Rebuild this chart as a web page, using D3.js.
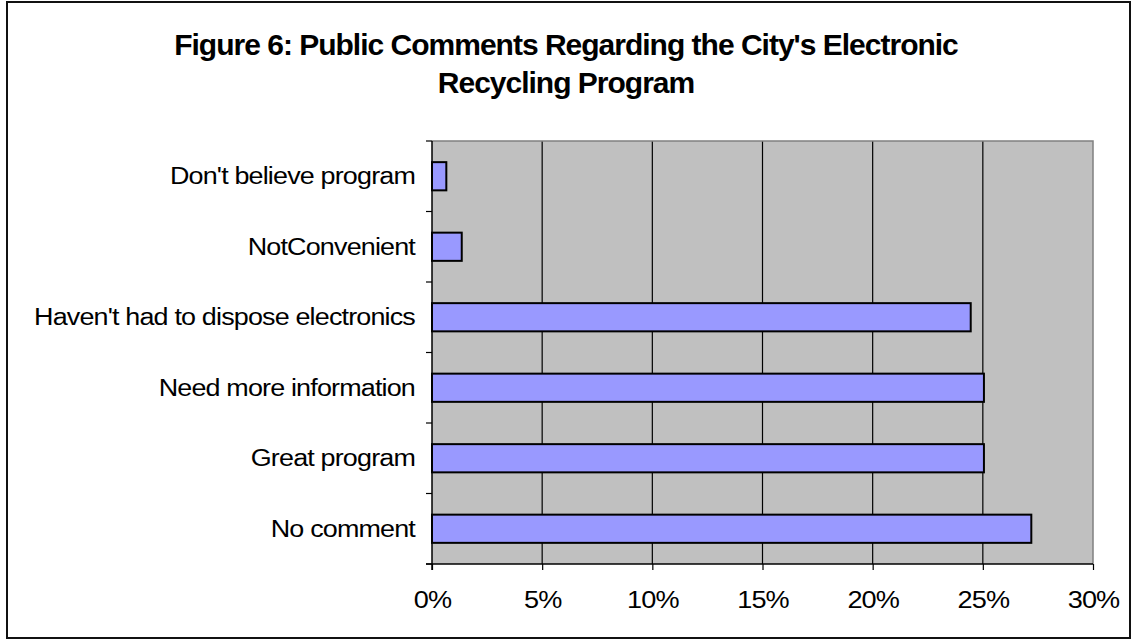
<!DOCTYPE html>
<html>
<head>
<meta charset="utf-8">
<script src="https://cdn.jsdelivr.net/npm/d3@7"></script>
<style>
  html, body { margin: 0; padding: 0; background: #fff; }
  svg { display: block; font-family: "Liberation Sans", Arial, sans-serif; }
</style>
</head>
<body>
<svg id="chart" width="1132" height="640"></svg>
<script>
// Survey responses, listed top to bottom as drawn
const categories = [
  "Don't believe program",
  "NotConvenient",
  "Haven't had to dispose electronics",
  "Need more information",
  "Great program",
  "No comment"
];
const shares = [0.65, 1.35, 24.45, 25.05, 25.05, 27.2]; // percent of responses
const xTicks = [0, 5, 10, 15, 20, 25, 30];
const titleLines = [
  "Figure 6: Public Comments Regarding the City's Electronic",
  "Recycling Program"
];

const svg = d3.select("#chart");
const plot = { left: 432, right: 1093, top: 141, bottom: 564 };
const textStretch = 1.17; // labels use wide glyphs with tight spacing

// outer frame
svg.append("rect")
  .attr("x", 7).attr("y", 2).attr("width", 1123).attr("height", 636)
  .attr("fill", "#fff").attr("stroke", "#111").attr("stroke-width", 2);

// title
svg.append("text")
  .attr("text-anchor", "middle")
  .attr("font-weight", "bold")
  .attr("font-size", 30)
  .attr("letter-spacing", -1)
  .selectAll("tspan").data(titleLines).join("tspan")
  .attr("x", 566)
  .attr("y", (d, i) => 55 + i * 38)
  .text(d => d);

const x = d3.scaleLinear().domain([0, 30]).range([plot.left, plot.right]);
const y = d3.scaleBand().domain(categories).range([plot.top, plot.bottom])
  .paddingInner(0.6).paddingOuter(0.3);
const step = (plot.bottom - plot.top) / categories.length;

// plot background
svg.append("rect")
  .attr("x", plot.left).attr("y", plot.top)
  .attr("width", plot.right - plot.left).attr("height", plot.bottom - plot.top)
  .attr("fill", "#c0c0c0");

// vertical gridlines
svg.append("g").selectAll("line").data(xTicks.slice(1, -1)).join("line")
  .attr("x1", d => x(d)).attr("x2", d => x(d))
  .attr("y1", plot.top).attr("y2", plot.bottom)
  .attr("stroke", "#000").attr("stroke-width", 1.2);

// plot border on top and right
svg.append("path")
  .attr("d", `M${plot.left},${plot.top}H${plot.right}V${plot.bottom}`)
  .attr("fill", "none").attr("stroke", "#808080").attr("stroke-width", 1.5);

// bars
svg.append("g").selectAll("rect").data(shares).join("rect")
  .attr("x", x(0))
  .attr("y", (d, i) => y(categories[i]))
  .attr("width", d => x(d) - x(0))
  .attr("height", y.bandwidth())
  .attr("fill", "#9999ff")
  .attr("stroke", "#000").attr("stroke-width", 2);

// x axis
const xAxis = svg.append("g")
  .attr("transform", `translate(0,${plot.bottom})`)
  .call(d3.axisBottom(x).tickValues(xTicks).tickFormat(d => d + "%").tickSize(6).tickPadding(0));
xAxis.select(".domain").attr("stroke", "#000").attr("stroke-width", 1.5)
  .attr("d", `M${plot.left - 6},0H${plot.right}`);
xAxis.selectAll(".tick line").attr("stroke", "#000").attr("stroke-width", 1.2);
xAxis.selectAll(".tick text")
  .attr("font-family", "Liberation Sans, Arial, sans-serif")
  .attr("font-size", 24).attr("letter-spacing", -0.8).attr("fill", "#000")
  .attr("y", 0).attr("dy", null)
  .attr("transform", `translate(0,44) scale(1.13,1)`);

// y axis line with ticks at category boundaries
svg.append("line")
  .attr("x1", plot.left).attr("x2", plot.left)
  .attr("y1", plot.top).attr("y2", plot.bottom + 6)
  .attr("stroke", "#000").attr("stroke-width", 1.5);
svg.append("g").selectAll("line").data(d3.range(categories.length + 1)).join("line")
  .attr("x1", plot.left - 6).attr("x2", plot.left)
  .attr("y1", i => plot.top + i * step).attr("y2", i => plot.top + i * step)
  .attr("stroke", "#000").attr("stroke-width", 1.2);

// category labels
svg.append("g").selectAll("text").data(categories).join("text")
  .attr("transform", d => `translate(415,${y(d) + y.bandwidth() / 2}) scale(${textStretch},1)`)
  .attr("dy", "0.35em")
  .attr("text-anchor", "end")
  .attr("font-size", 23)
  .attr("letter-spacing", -0.7)
  .attr("fill", "#000")
  .text(d => d);
</script>
</body>
</html>
